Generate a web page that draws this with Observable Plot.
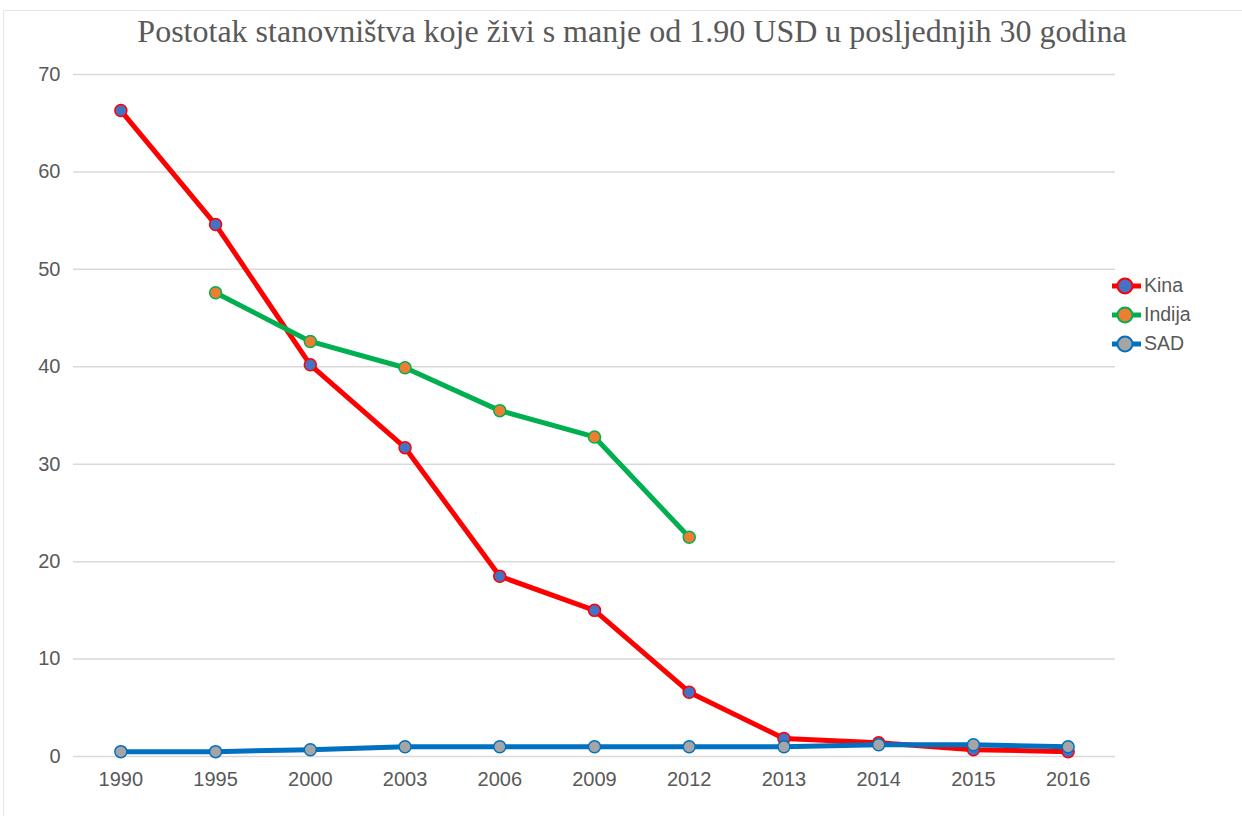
<!DOCTYPE html>
<html>
<head>
<meta charset="utf-8">
<script src="https://cdn.jsdelivr.net/npm/d3@7"></script>
<script src="https://cdn.jsdelivr.net/npm/@observablehq/plot@0.6"></script>
<style>
  html, body { margin: 0; padding: 0; background: #fff; }
  #wrap { position: relative; width: 1242px; height: 816px; overflow: hidden; }
  #title { height: 50px; box-sizing: border-box; padding-top: 15px; padding-left: 22px; text-align: center; white-space: nowrap;
           font-family: "Liberation Serif", "Times New Roman", serif; font-size: 32px; line-height: 1; color: #595959; }
  #legend { position: absolute; left: 1111px; top: 271px; font-family: "Liberation Sans", Arial, sans-serif;
            font-size: 19.5px; color: #595959; }
  .item { display: flex; align-items: center; height: 29px; }
  .item svg { margin-right: 2px; }
  #border { position: absolute; left: 3px; top: 10px; right: 0; bottom: 0; border-left: 1px solid #e6e6e6; border-top: 1px solid #e6e6e6; pointer-events: none; }
</style>
</head>
<body>
<div id="wrap">
  <div id="border"></div>
  <div id="title">Postotak stanovništva koje živi s manje od 1.90 USD u posljednjih 30 godina</div>
  <div id="chart"></div>
  <div id="legend"></div>
</div>
<script>
const years = ["1990","1995","2000","2003","2006","2009","2012","2013","2014","2015","2016"];
const kina = [66.3, 54.6, 40.2, 31.7, 18.5, 15.0, 6.6, 1.85, 1.4, 0.7, 0.5];
const indija = [null, 47.6, 42.6, 39.9, 35.5, 32.8, 22.5, null, null, null, null];
const sad = [0.5, 0.5, 0.7, 1.0, 1.0, 1.0, 1.0, 1.0, 1.2, 1.2, 1.0];
const seriesNames = ["Kina", "Indija", "SAD"];
const lineColors = ["#ff0000", "#00b050", "#0070c0"];
const dotColors = ["#4472c4", "#ed7d31", "#a5a5a5"];
const yTicks = [0, 10, 20, 30, 40, 50, 60, 70];

const valuesBySeries = [kina, indija, sad];
const tables = valuesBySeries.map((vals, i) =>
  years.map((y, j) => ({year: y, value: vals[j], series: seriesNames[i]})).filter(d => d.value != null)
);

const marks = [
  Plot.ruleY(yTicks, {stroke: "#d9d9d9", strokeWidth: 1.5})
];
tables.forEach((t, i) => {
  marks.push(Plot.line(t, {x: "year", y: "value", stroke: lineColors[i], strokeWidth: 5, strokeLinejoin: "round"}));
  marks.push(Plot.dot(t, {x: "year", y: "value", r: 6, fill: dotColors[i], stroke: lineColors[i], strokeWidth: 1.5}));
});

const chart = Plot.plot({
  width: 1242,
  height: 766,
  marginTop: 24,
  marginBottom: 60,
  marginLeft: 73,
  marginRight: 127,
  style: {fontFamily: "Liberation Sans, Arial, sans-serif", fontSize: "20px", color: "#595959", background: "transparent"},
  x: {type: "point", domain: years, padding: 0.5, round: false, label: null, tickSize: 0, tickPadding: 15},
  y: {domain: [0, 70], ticks: yTicks, label: null, tickSize: 0, tickPadding: 13},
  marks
});
document.getElementById("chart").appendChild(chart);

const legend = document.getElementById("legend");
seriesNames.forEach((name, i) => {
  const item = document.createElement("div");
  item.className = "item";
  item.innerHTML = `<svg width="31" height="20"><line x1="1" x2="30" y1="10" y2="10" stroke="${lineColors[i]}" stroke-width="5"/><circle cx="14" cy="10" r="7.5" fill="${dotColors[i]}" stroke="${lineColors[i]}" stroke-width="2"/></svg><span>${name}</span>`;
  legend.appendChild(item);
});
</script>
</body>
</html>
